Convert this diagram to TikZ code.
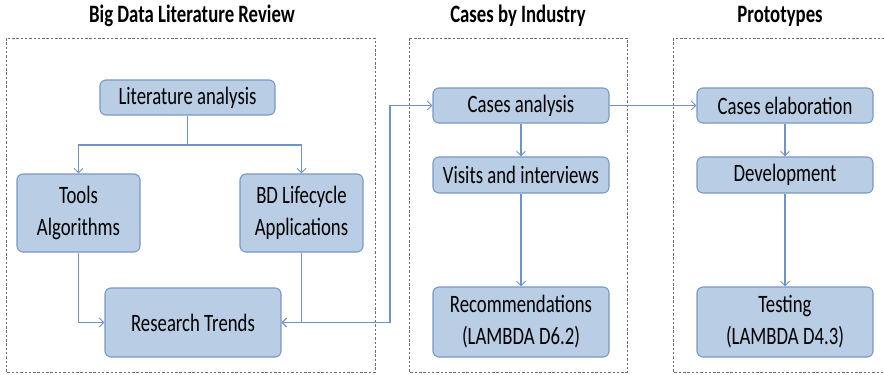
\documentclass[tikz,border=0pt]{standalone}
\usepackage{fontspec}
\setmainfont{Carlito}[FakeStretch=0.75]
\usetikzlibrary{arrows.meta}
\definecolor{boxfill}{HTML}{B9CDE5}
\definecolor{boxline}{HTML}{7A98C6}
\definecolor{conn}{HTML}{6F93C8}
\definecolor{dashc}{HTML}{6E6E6E}
\tikzset{
  stepbox/.style={draw=boxline, fill=boxfill, line width=1.1pt, rounded corners=6pt,
    align=center, inner sep=0pt, font=\fontsize{25}{32}\selectfont, text=black},
  conline/.style={draw=conn, line width=1.1pt},
  arr/.style={conline, -{Straight Barb[length=4.5pt,width=9pt,line width=0.9pt]}},
  group/.style={draw=dashc, line width=0.8pt, dash pattern=on 2.5pt off 1.8pt},
  ttl/.style={font=\bfseries\fontsize{25}{30}\selectfont, text=black}
}
\begin{document}
\begin{tikzpicture}[x=1pt,y=-1pt]
\useasboundingbox (0,0) rectangle (884,375);
% groups
\draw[group] (6,38) rectangle (375,372);
\draw[group] (409,38) rectangle (627,372);
\draw[group] (673,38) rectangle (892,372);
% titles
\node[ttl] (t1) at (192,16) {Big Data Literature Review};
\node[ttl] (t2) at (518,16) {Cases by Industry};
\node[ttl] (t3) at (780,16) {Prototypes};
% boxes
\node[stepbox, minimum width=175pt, minimum height=35pt] (lit) at (187.5,97.5) {Literature analysis};
\node[stepbox, minimum width=123pt, minimum height=78pt] (tools) at (78.5,213) {Tools\\Algorithms};
\node[stepbox, minimum width=123pt, minimum height=78pt] (bdl) at (301.5,213) {BD Lifecycle\\Applications};
\node[stepbox, minimum width=176pt, minimum height=69pt] (rt) at (193,322.5) {Research Trends};
\node[stepbox, minimum width=176pt, minimum height=35pt] (ca) at (521,105.5) {Cases analysis};
\node[stepbox, minimum width=176pt, minimum height=36pt] (vi) at (521,175) {Visits and interviews};
\node[stepbox, minimum width=176pt, minimum height=70pt] (rec) at (521,322) {Recommendations\\(LAMBDA D6.2)};
\node[stepbox, minimum width=176pt, minimum height=35pt] (ce) at (785,105.5) {Cases elaboration};
\node[stepbox, minimum width=176pt, minimum height=36pt] (dev) at (785,175) {Development};
\node[stepbox, minimum width=176pt, minimum height=70pt] (test) at (785,322) {Testing\\(LAMBDA D4.3)};
% connectors
\coordinate (sp) at (187.5,145);
\draw[conline] (lit.south) -- (sp);
\draw[arr] (sp) -| (tools.north);
\draw[arr] (sp) -| (bdl.north);
\draw[arr] (tools.south) |- (rt.west);
\draw[arr] (bdl.south) |- (rt.east);
\coordinate (j1) at (390,322.5);
\draw[arr] (j1) -- (rt.east);
\draw[arr] (j1) |- (ca.west);
\draw[arr] (ca.east) -- (ce.west);
\draw[arr] (ca.south) -- (vi.north);
\draw[arr] (vi.south) -- (rec.north);
\draw[arr] (ce.south) -- (dev.north);
\draw[arr] (dev.south) -- (test.north);
\end{tikzpicture}
\end{document}
